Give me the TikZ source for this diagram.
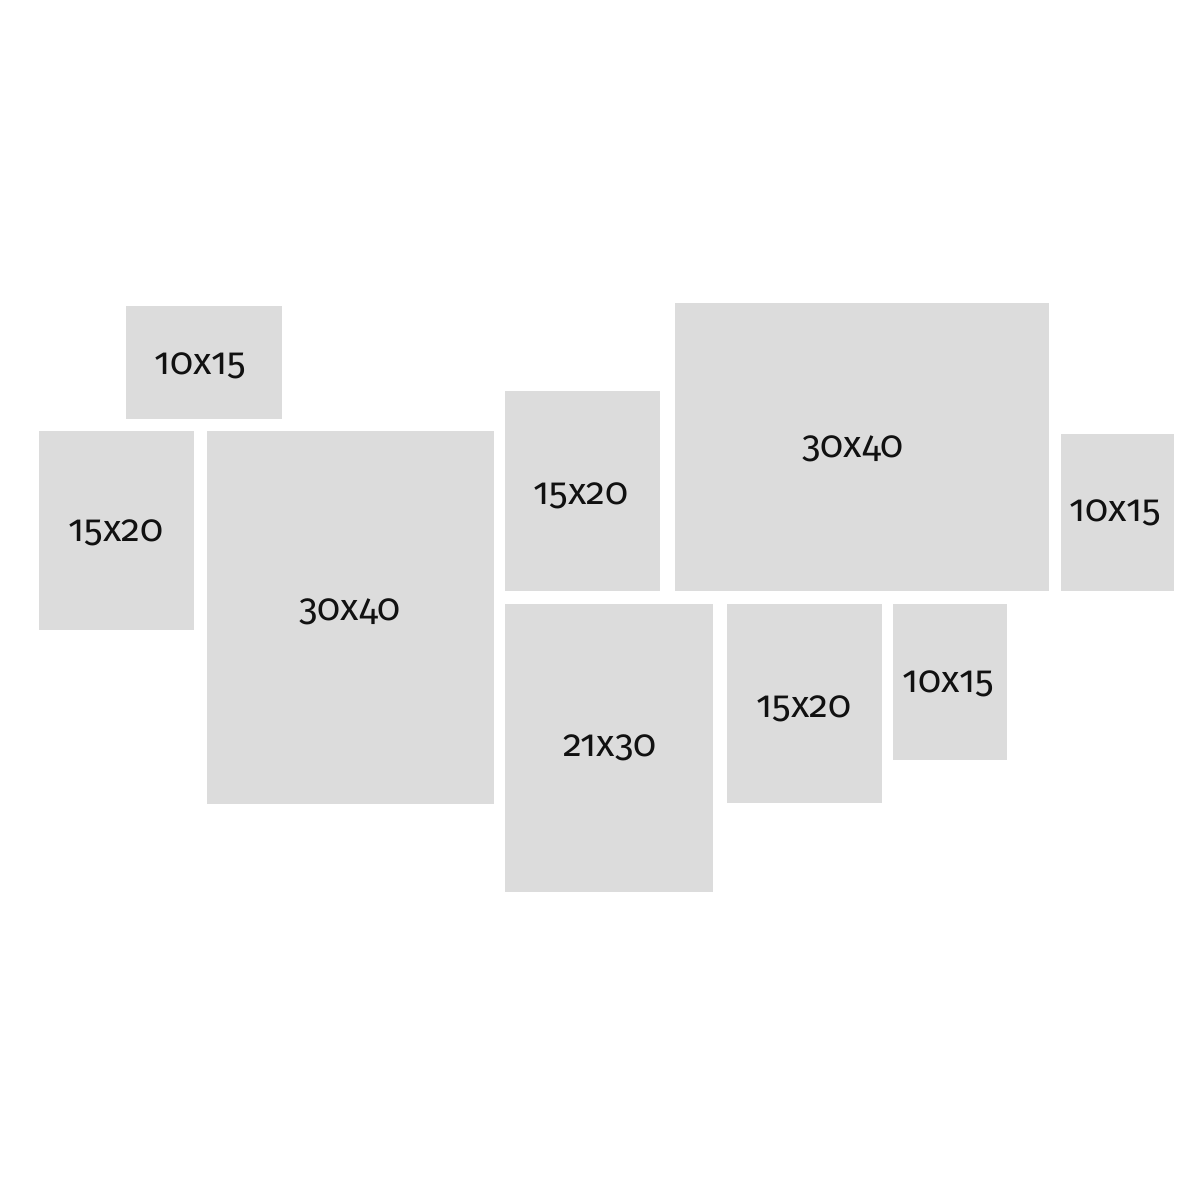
\documentclass[tikz,border=0pt]{standalone}
\usepackage{fontspec}
\setmainfont{Fira Sans}[Numbers=OldStyle]
\definecolor{photo}{HTML}{DCDCDC}
\definecolor{ink}{HTML}{111111}
\tikzset{size/.style={text=ink, font=\fontsize{10.8pt}{12pt}\selectfont, inner sep=0pt}}
\begin{document}
\begin{tikzpicture}[x=0.01cm, y=-0.01cm]
  \useasboundingbox [fill=white] (0, 0) rectangle (1200, 1200);

  \fill [color=photo] (125.5, 306) rectangle (281.5, 419);
  \fill [color=photo] (39, 431) rectangle (194, 629.5);
  \fill [color=photo] (207, 431) rectangle (494, 804);
  \fill [color=photo] (505, 391) rectangle (660, 590.5);
  \fill [color=photo] (675, 302.5) rectangle (1048.5, 590.5);
  \fill [color=photo] (1061, 434) rectangle (1174, 590.5);
  \fill [color=photo] (505, 604) rectangle (712.5, 892);
  \fill [color=photo] (727, 604) rectangle (881.5, 802.5);
  \fill [color=photo] (893, 604) rectangle (1006.5, 759.5);

  \node (tl) [size] at (200, 366) {10x15};
  \node (ml) [size] at (116, 533) {15x20};
  \node (bigl) [size] at (350, 612) {30x40};
  \node (mc) [size] at (581, 496) {15x20};
  \node (bigr) [size] at (853, 449) {30x40};
  \node (rr) [size] at (1115, 513) {10x15};
  \node (bc) [size] at (610, 748) {21x30};
  \node (bm) [size] at (804, 709) {15x20};
  \node (br) [size] at (948, 684) {10x15};
\end{tikzpicture}
\end{document}
